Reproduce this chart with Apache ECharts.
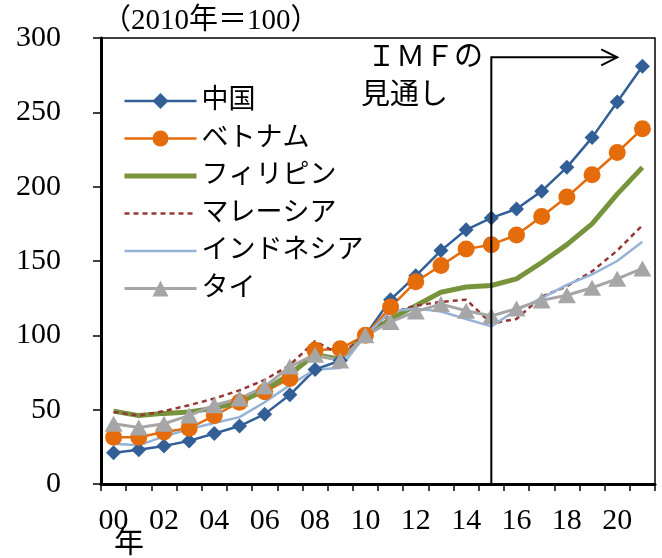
<!DOCTYPE html>
<html>
<head>
<meta charset="utf-8">
<script src="https://cdn.jsdelivr.net/npm/echarts@6/dist/echarts.min.js"></script>
<style>
html, body { margin: 0; padding: 0; background: #fff; }
#chart { width: 662px; height: 558px; }
</style>
</head>
<body>
<div id="chart"></div>
<script>
// Years (2000–2021), two-digit labels
const years = ['00','01','02','03','04','05','06','07','08','09','10',
               '11','12','13','14','15','16','17','18','19','20','21'];

// Index values, 2010 = 100
const china       = [21, 23, 25.5, 29, 34, 39, 47, 60, 77, 83, 100, 124, 140, 157, 171, 179, 185, 197, 213, 233, 257, 281];
const vietnam     = [31.5, 31.5, 35, 37.5, 46, 55, 62, 71, 90, 91, 100, 119, 136, 147, 158, 161, 167.5, 180, 193, 208, 223, 239];
const philippines = [49, 46, 47.5, 48.5, 51, 55, 63, 74, 87, 84, 100, 111, 120, 129, 132.5, 133.5, 138, 149, 161, 175, 195, 213];
const malaysia    = [48.5, 46, 49, 53, 57.5, 63, 70, 80, 96, 87, 100, 115, 120, 122.5, 124, 108, 111, 126, 133, 143, 157, 174];
const indonesia   = [27, 26, 32, 37, 41, 45, 55, 66.5, 77, 78, 100, 116, 118, 116, 111, 106, 117, 125, 134, 141, 150, 163];
const thailand    = [40.5, 38, 40.5, 46, 53, 57.5, 65.5, 79, 87, 83, 100, 109, 116, 121, 116.5, 113, 118, 123.5, 127, 132, 138, 145];

const seriesNames = ['中国', 'ベトナム', 'フィリピン', 'マレーシア', 'インドネシア', 'タイ'];
// Series drawn as plain lines (no point markers)
const plainLines = ['フィリピン', 'マレーシア', 'インドネシア'];

// Forecast starts here (IMF outlook)
const forecastStart = '15';
const forecastTopValue = 287;
const forecastArrowEnd = '20';

const numFont = "'Liberation Serif', 'Noto Sans CJK JP', serif";
const jpFont = "'Liberation Serif', 'Noto Sans CJK JP', sans-serif";

const chart = echarts.init(document.getElementById('chart'), null, { renderer: 'canvas' });

const styles = {
  '中国':        { color: '#335f97', width: 2.5, symbol: 'diamond', size: 15 },
  'ベトナム':    { color: '#e46c0a', width: 2.5, symbol: 'circle', size: 17 },
  'フィリピン':  { color: '#77933c', width: 5,   symbol: 'none' },
  'マレーシア':  { color: '#953735', width: 2.5, symbol: 'none', dash: [5, 4] },
  'インドネシア':{ color: '#95b3d7', width: 2.5, symbol: 'none' },
  'タイ':        { color: '#a6a6a6', width: 3,   symbol: 'triangle', size: [18, 16] }
};
const valuesByName = {
  '中国': china, 'ベトナム': vietnam, 'フィリピン': philippines,
  'マレーシア': malaysia, 'インドネシア': indonesia, 'タイ': thailand
};

const series = seriesNames.map(name => {
  const s = styles[name];
  return {
    name: name,
    type: 'line',
    data: valuesByName[name],
    smooth: false,
    showSymbol: s.symbol !== 'none',
    showAllSymbol: true,
    symbol: s.symbol,
    symbolSize: s.size || 0,
    lineStyle: { color: s.color, width: s.width, type: s.dash || 'solid' },
    itemStyle: { color: s.color },
    emphasis: { disabled: true }
  };
});

chart.setOption({
  animation: false,
  backgroundColor: '#fff',
  grid: {
    left: 101, right: 7, top: 38, bottom: 74,
    show: true, borderColor: '#000', borderWidth: 1.5, backgroundColor: 'transparent'
  },
  legend: {
    orient: 'vertical',
    left: 117, top: 82,
    itemWidth: 72, itemHeight: 20, itemGap: 9.5,
    data: seriesNames.map(n => {
      const s = styles[n];
      const item = { name: n, lineStyle: { width: s.width, color: s.color, type: s.dash || 'solid' } };
      if (plainLines.indexOf(n) >= 0) item.itemStyle = { opacity: 0 };
      return item;
    }),
    textStyle: { fontFamily: jpFont, fontSize: 27, color: '#000', lineHeight: 28 },
    selectedMode: false
  },
  xAxis: {
    type: 'category',
    data: years,
    boundaryGap: true,
    axisLine: { show: true, lineStyle: { color: '#000', width: 3 } },
    axisTick: { show: true, interval: 0, length: 7, lineStyle: { color: '#000', width: 1.5 } },
    axisLabel: { interval: 1, margin: 22, fontFamily: numFont, fontSize: 30, color: '#000' },
    splitLine: { show: false }
  },
  yAxis: {
    type: 'value',
    min: 0, max: 300, interval: 50,
    axisLine: { show: true, lineStyle: { color: '#000', width: 3 } },
    axisTick: { show: true, length: 8, lineStyle: { color: '#000', width: 1.5 } },
    axisLabel: { margin: 40, fontFamily: numFont, fontSize: 30, color: '#000' },
    splitLine: { show: false }
  },
  series: series
});

// Forecast bracket: vertical line at the first forecast year, arrow pointing right
const x0 = chart.convertToPixel({ xAxisIndex: 0 }, forecastStart);
const x1 = chart.convertToPixel({ xAxisIndex: 0 }, forecastArrowEnd);
const yTop = chart.convertToPixel({ yAxisIndex: 0 }, forecastTopValue);
const yBottom = chart.convertToPixel({ yAxisIndex: 0 }, 0);

chart.setOption({
  graphic: [
    { type: 'polyline', z: 100, silent: true,
      shape: { points: [[x0, yBottom], [x0, yTop], [x1, yTop]] },
      style: { stroke: '#000', lineWidth: 2, fill: null } },
    { type: 'polyline', z: 100, silent: true,
      shape: { points: [[x1 - 16, yTop - 8], [x1, yTop], [x1 - 16, yTop + 8]] },
      style: { stroke: '#000', lineWidth: 2, fill: null } },
    { type: 'text', left: 102, top: 7, silent: true,
      style: { text: '（2010年＝100）', font: "29px 'Liberation Serif', 'Noto Sans CJK JP'", fill: '#000' } },
    { type: 'text', left: 367, top: 40, silent: true,
      style: { text: 'ＩＭＦの', font: "29px 'Noto Sans CJK JP'", fill: '#000' } },
    { type: 'text', left: 361, top: 78, silent: true,
      style: { text: '見通し', font: "29px 'Noto Sans CJK JP'", fill: '#000' } },
    { type: 'text', left: 114, top: 526, silent: true,
      style: { text: '年', font: "30px 'Noto Sans CJK JP'", fill: '#000' } }
  ]
});
</script>
</body>
</html>
